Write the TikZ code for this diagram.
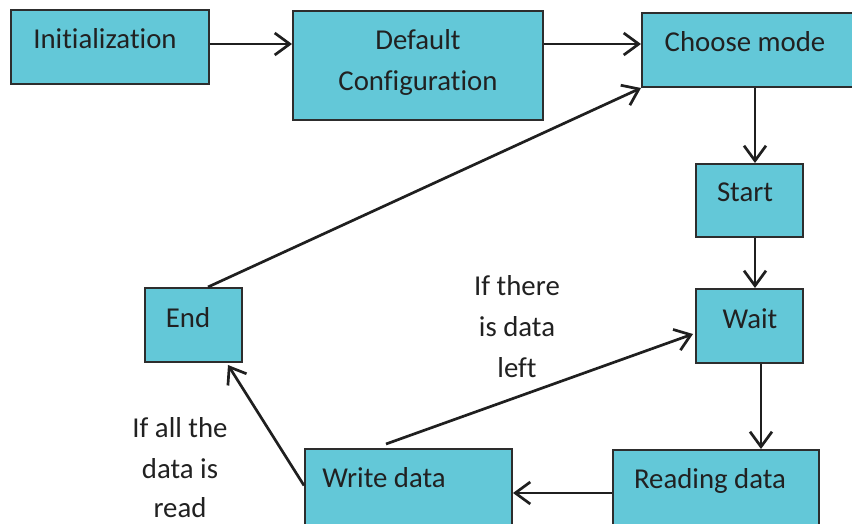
\documentclass[tikz,border=0pt]{standalone}
\usepackage{fontspec}
\setmainfont[Ligatures=NoCommon]{Carlito}
\usetikzlibrary{arrows.meta}
\definecolor{boxfill}{RGB}{99,200,216}
\definecolor{boxline}{RGB}{45,45,45}
\begin{document}
\begin{tikzpicture}[x=1pt,y=-1pt,
  box/.style={draw=boxline,fill=boxfill,line width=2pt,inner sep=0pt,rectangle},
  txt/.style={font=\fontsize{28.8}{41}\selectfont,text=black!87,inner sep=0pt,anchor=base,align=center},
  arr/.style={draw=black!88,line width=2.7pt,-{Straight Barb[length=15pt,width=22pt,line width=2.7pt]}}]
\useasboundingbox (0,0) rectangle (852,524);
% boxes
\node[box,minimum width=198pt,minimum height=74pt] (init) at (110,47) {};
\node[box,minimum width=250pt,minimum height=109pt] (dc) at (418,65.5) {};
\node[box,minimum width=228pt,minimum height=74pt] (cm) at (756,50) {};
\node[box,minimum width=107pt,minimum height=73pt] (start) at (749.5,200.5) {};
\node[box,minimum width=107pt,minimum height=74pt] (wait) at (749.5,326) {};
\node[box,minimum width=97pt,minimum height=74pt] (end) at (193.5,325) {};
\node[box,minimum width=207pt,minimum height=81pt] (write) at (408.5,489.5) {};
\node[box,minimum width=206pt,minimum height=80pt] (read) at (716,490) {};
% texts
\node[txt] (tinit) at (105,49) {Initialization};
\node[txt] (tdc1) at (418,50) {Default};
\node[txt] (tdc2) at (418,91) {Configuration};
\node[txt] (tcm) at (745,52) {Choose mode};
\node[txt] (tstart) at (745,202) {Start};
\node[txt] (twait) at (750,328) {Wait};
\node[txt] (tend) at (188,327) {End};
\node[txt] (twrite) at (384,487) {Write data};
\node[txt] (tread) at (710,488) {Reading data};
\node[txt] (l1a) at (517,295) {If there};
\node[txt] (l1b) at (517,336) {is data};
\node[txt] (l1c) at (517,377) {left};
\node[txt] (l2a) at (180,437) {If all the};
\node[txt] (l2b) at (180,478) {data is};
\node[txt] (l2c) at (180,517) {read};
% connectors
\draw[arr] ([yshift=3pt]init.east) -- ([yshift=3pt]init.east -| dc.west);
\draw[arr] ([yshift=6pt]cm.west -| dc.east) -- ([yshift=6pt]cm.west);
\draw[arr] ([xshift=5.5pt]start.north |- cm.south) -- ([xshift=5.5pt]start.north);
\draw[arr] ([xshift=5.5pt]start.south) -- ([xshift=5.5pt]wait.north);
\draw[arr] ([xshift=11.5pt]wait.south) -- ([xshift=11.5pt]wait.south |- read.north);
\draw[arr] ([yshift=-3pt]read.west) -- ([yshift=-3pt]read.west -| write.east);
\draw[arr] ([xshift=-22.5pt,yshift=4pt]write.north) -- ([xshift=-2pt,yshift=-8pt]wait.west);
\draw[arr] ([yshift=4pt]write.west) -- ([xshift=34.5pt,yshift=-2pt]end.south);
\draw[arr] ([xshift=14.5pt]end.north) -- (cm.south west);
\end{tikzpicture}
\end{document}
